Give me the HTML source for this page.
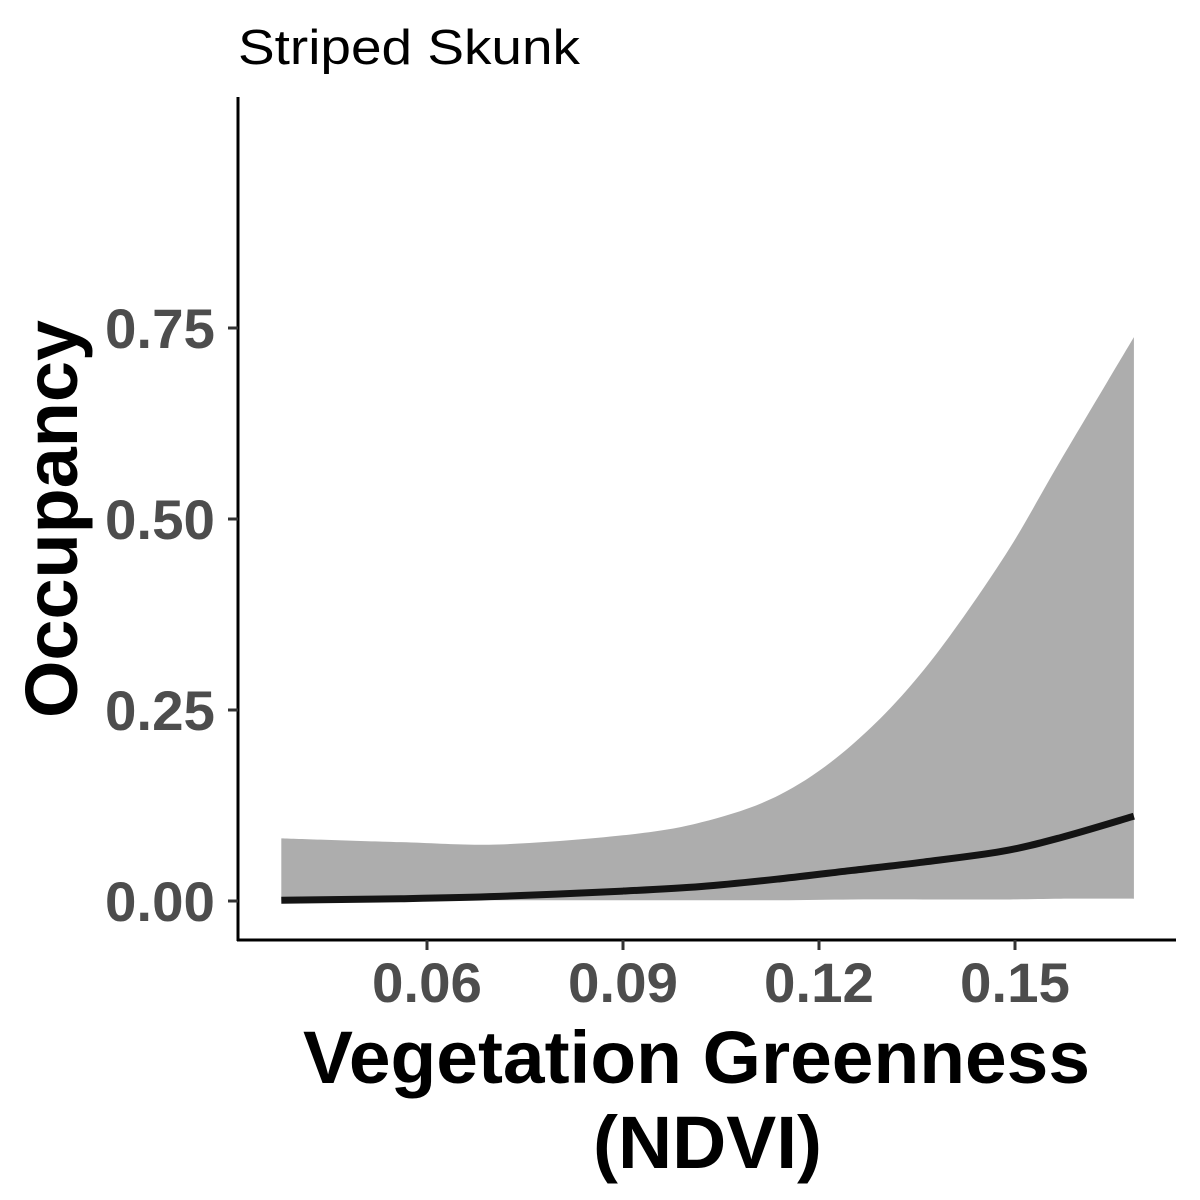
<!DOCTYPE html>
<html><head><meta charset="utf-8"><style>
body{margin:0;background:#fff}
svg{display:block;font-family:"Liberation Sans",Arial,sans-serif}
</style></head><body>
<svg id="chart" width="1200" height="1200">
<text x="238" y="64" font-size="49" textLength="342" lengthAdjust="spacingAndGlyphs" fill="#000">Striped Skunk</text>
<g id="plot"></g>
<line x1="238" y1="97" x2="238" y2="941" stroke="#000" stroke-width="3"/>
<line x1="237" y1="940" x2="1176" y2="940" stroke="#000" stroke-width="3"/>
<g id="axes"></g>
<text x="303" y="1083" font-size="74" font-weight="bold" textLength="787" lengthAdjust="spacingAndGlyphs">Vegetation Greenness</text>
<text x="593" y="1168" font-size="74" font-weight="bold" textLength="229" lengthAdjust="spacingAndGlyphs">(NDVI)</text>
<text transform="translate(77,718) rotate(-90)" font-size="74" font-weight="bold" textLength="398" lengthAdjust="spacingAndGlyphs">Occupancy</text>
</svg>
<script>
const xVals=[0.0377,0.056,0.071,0.09,0.102,0.114,0.125,0.136,0.148,0.157,0.1682];
const upper=[0.082,0.077,0.074,0.086,0.103,0.139,0.204,0.302,0.446,0.577,0.738];
const lower=[0.001,0.001,0.001,0.001,0.001,0.001,0.002,0.002,0.002,0.003,0.003];
const mean=[0.001,0.003,0.006,0.013,0.019,0.029,0.040,0.051,0.065,0.083,0.111];
const xTicks=[0.06,0.09,0.12,0.15];
const xTickLabels=["0.06","0.09","0.12","0.15"];
const yTicks=[0,0.25,0.5,0.75];
const yTickLabels=["0.00","0.25","0.50","0.75"];
const X=v=>427+(v-0.06)/0.03*196;
const Y=v=>901-v*764;
const NS="http://www.w3.org/2000/svg";
const plot=document.getElementById('plot'),axes=document.getElementById('axes');
function mk(t,a,p){const e=document.createElementNS(NS,t);for(const k in a)e.setAttribute(k,a[k]);p.appendChild(e);return e;}
function smooth(pts,start){
 let d=(start?'M':'L')+pts[0][0]+','+pts[0][1];
 for(let i=0;i<pts.length-1;i++){
  const p0=pts[Math.max(0,i-1)],p1=pts[i],p2=pts[i+1],p3=pts[Math.min(pts.length-1,i+2)];
  const c1=[p1[0]+(p2[0]-p0[0])/6,p1[1]+(p2[1]-p0[1])/6];
  const c2=[p2[0]-(p3[0]-p1[0])/6,p2[1]-(p3[1]-p1[1])/6];
  d+='C'+c1[0]+','+c1[1]+' '+c2[0]+','+c2[1]+' '+p2[0]+','+p2[1];
 }
 return d;
}
const up=xVals.map((x,i)=>[X(x),Y(upper[i])]);
const lo=xVals.map((x,i)=>[X(x),Y(lower[i])]).reverse();
const band=mk('path',{d:smooth(up,true)+smooth(lo,false)+'Z',fill:'#adadad'},plot);


const ln=mk('path',{d:smooth(xVals.map((x,i)=>[X(x),Y(mean[i])]),true),fill:'none',stroke:'#141414','stroke-width':7},plot);


xTicks.forEach((v,i)=>{
 const t=mk('line',{x1:X(v),x2:X(v),y1:940,y2:950,stroke:'#333','stroke-width':3},axes);
 
 
 const l=mk('text',{x:X(v)-55,y:1002,'font-size':56,'font-weight':'bold',fill:'#4d4d4d',textLength:110,lengthAdjust:'spacingAndGlyphs'},axes);
 l.textContent=xTickLabels[i];
 
 
});
yTicks.forEach((v,i)=>{
 const t=mk('line',{x1:228,x2:238,y1:Y(v),y2:Y(v),stroke:'#333','stroke-width':3},axes);
 
 
 const l=mk('text',{x:105,y:Y(v)+20,'font-size':56,'font-weight':'bold',fill:'#4d4d4d',textLength:110,lengthAdjust:'spacingAndGlyphs'},axes);
 l.textContent=yTickLabels[i];
 
 
});
</script>
</body></html>
